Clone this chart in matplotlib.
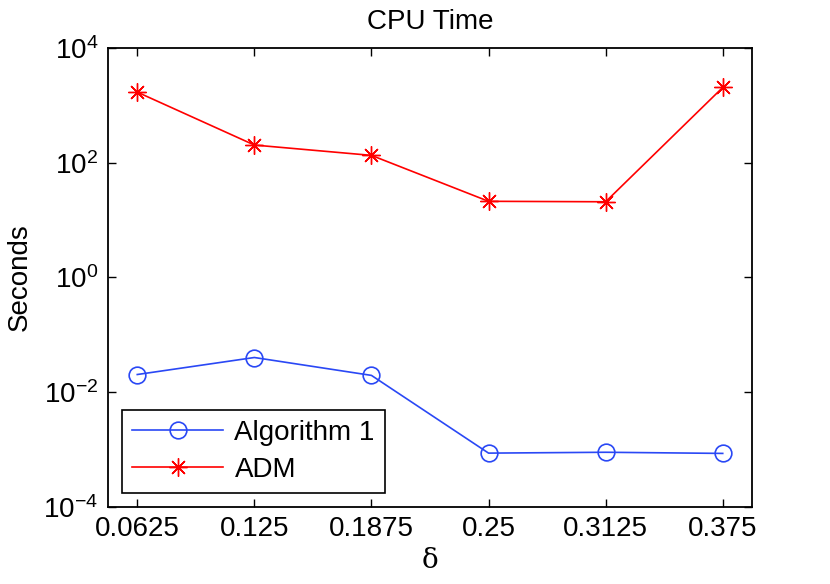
import matplotlib
matplotlib.use('Agg')
import matplotlib.pyplot as plt
import numpy as np

# Data
delta = [0.0625, 0.125, 0.1875, 0.25, 0.3125, 0.375]
delta_labels = ['0.0625', '0.125', '0.1875', '0.25', '0.3125', '0.375']
alg1_time = [0.0202, 0.040, 0.0195, 8.6e-4, 8.9e-4, 8.5e-4]
adm_time = [1700, 203, 134, 21.2, 20.8, 2050]

plt.rcParams['font.family'] = ['Liberation Sans', 'DejaVu Sans']
plt.rcParams['mathtext.fontset'] = 'custom'
plt.rcParams['mathtext.rm'] = 'Liberation Sans'
plt.rcParams['mathtext.it'] = 'Liberation Sans:italic'
plt.rcParams['axes.unicode_minus'] = False

fsize = 20

fig = plt.figure(figsize=(8.3, 5.84), dpi=100)
ax = fig.add_axes([108/830, 1-506.7/584, (752-108)/830, (506.7-48)/584])

ax.plot(delta, alg1_time, color='#2a48f5', lw=1.2, marker='o', ms=12,
        mfc='none', mec='#2a48f5', mew=1.2, label='Algorithm 1')
ax.plot(delta, adm_time, color='#ff0000', lw=1.2, marker=(8, 2, 0), ms=13,
        mec='#ff0000', mew=1.0, label='ADM')

ax.set_yscale('log')
ax.set_ylim(1e-4, 1e4)
ax.set_xlim(0.0625 - 1/64, 0.375 + 1/64)
ax.set_yticks([1e-4, 1e-2, 1e0, 1e2, 1e4])
ax.set_yticklabels([r'$10^{-4}$', r'$10^{-2}$', r'$10^{0}$', r'$10^{2}$', r'$10^{4}$'])
ax.minorticks_off()
ax.set_xticks(delta)
ax.set_xticklabels(delta_labels)

ax.tick_params(direction='in', length=6, width=1, top=True, right=True,
               labelsize=fsize, pad=7)
for s in ax.spines.values():
    s.set_linewidth(1.3)

ax.set_title('CPU Time', fontsize=fsize, pad=14)
ax.set_ylabel('Seconds', fontsize=fsize, labelpad=8)
ax.set_xlabel('δ', fontsize=fsize, family=['DejaVu Serif'], labelpad=3)

leg = ax.legend(loc='lower left', bbox_to_anchor=(0.0217, 0.030), fontsize=fsize,
                fancybox=False, edgecolor='black', framealpha=1,
                handlelength=3.3, borderpad=0.35, labelspacing=0.4,
                handletextpad=0.4, borderaxespad=0)
leg.get_frame().set_linewidth(1.2)

fig.savefig('out.png', dpi=100)
